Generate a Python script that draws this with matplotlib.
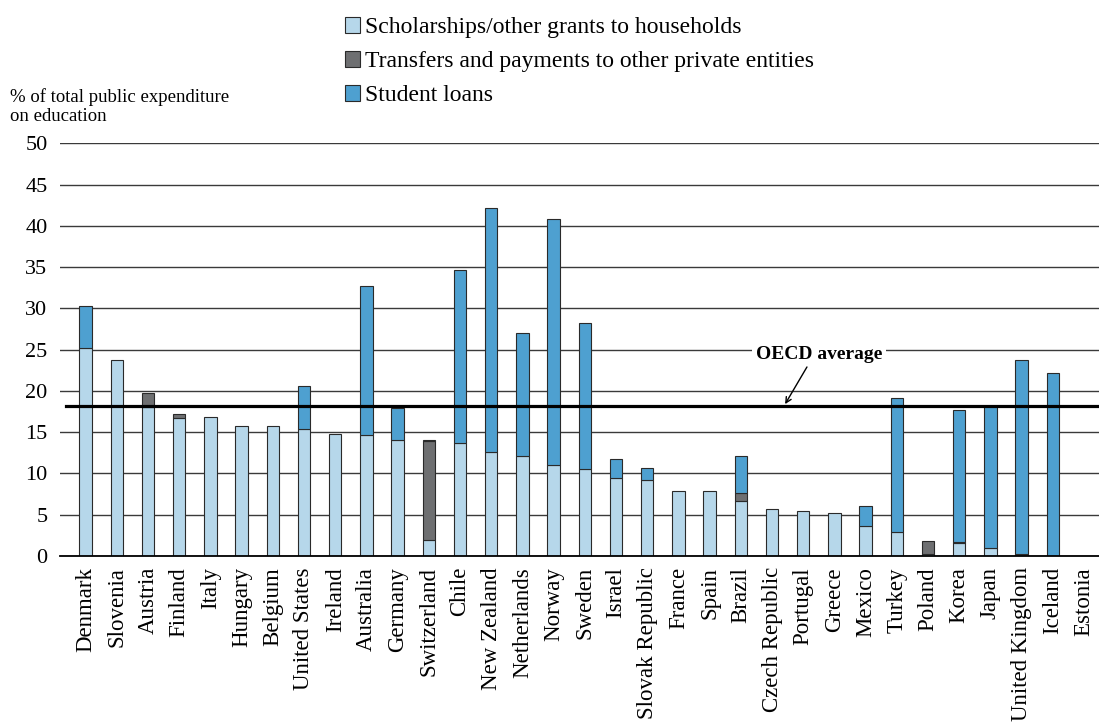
import matplotlib
matplotlib.use("Agg")
import matplotlib.pyplot as plt
from matplotlib.patches import Patch
import numpy as np

countries = ["Denmark", "Slovenia", "Austria", "Finland", "Italy", "Hungary", "Belgium",
             "United States", "Ireland", "Australia", "Germany", "Switzerland", "Chile",
             "New Zealand", "Netherlands", "Norway", "Sweden", "Israel", "Slovak Republic",
             "France", "Spain", "Brazil", "Czech Republic", "Portugal", "Greece", "Mexico",
             "Turkey", "Poland", "Korea", "Japan", "United Kingdom", "Iceland", "Estonia"]

scholarships = [25.2, 23.8, 18.1, 16.7, 16.8, 15.8, 15.7, 15.4, 14.8, 14.6, 14.1, 1.9, 13.7,
                12.6, 12.1, 11.0, 10.5, 9.5, 9.2, 7.9, 7.9, 6.7, 5.7, 5.4, 5.2, 3.6,
                2.9, 0.3, 1.6, 1.0, 0.0, 0.0, 0.0]
transfers = [0.0, 0.0, 1.6, 0.5, 0.0, 0.0, 0.0, 0.0, 0.0, 0.0, 0.0, 12.0, 0.0,
             0.0, 0.0, 0.0, 0.0, 0.0, 0.0, 0.0, 0.0, 0.9, 0.0, 0.0, 0.0, 0.0,
             0.0, 1.55, 0.15, 0.0, 0.2, 0.0, 0.0]
loans = [5.1, 0.0, 0.0, 0.0, 0.0, 0.0, 0.0, 5.2, 0.0, 18.1, 3.8, 0.1, 21.0,
         29.6, 14.9, 29.8, 17.7, 2.2, 1.5, 0.0, 0.0, 4.5, 0.0, 0.0, 0.0, 2.5,
         16.3, 0.0, 15.9, 17.2, 23.6, 22.2, 0.0]
oecd_average = 18.2

series_labels = ["Scholarships/other grants to households",
                 "Transfers and payments to other private entities",
                 "Student loans"]
colors = ["#b6d7ea", "#6e6f71", "#4ea0d0"]

plt.rcParams['font.family'] = ['Liberation Serif', 'DejaVu Serif']

W, H = 1099, 725
fig = plt.figure(figsize=(W/100, H/100), dpi=100)
ax_left, ax_bottom_px, ax_top_px = 60, 556, 143.3
ax = fig.add_axes([ax_left/W, 1-ax_bottom_px/H, 1-ax_left/W, (ax_bottom_px-ax_top_px)/H])

n = len(countries)
x = np.arange(n)
s = np.array(scholarships); t = np.array(transfers); l = np.array(loans)
w = 0.4
kw = dict(width=w, edgecolor="#2a2a2a", linewidth=0.8, zorder=3)
for i in range(n):
    if s[i] > 0:
        ax.bar(x[i], s[i], color=colors[0], **kw)
    if t[i] > 0:
        ax.bar(x[i], t[i], bottom=s[i], color=colors[1], **kw)
    if l[i] > 0:
        ax.bar(x[i], l[i], bottom=s[i]+t[i], color=colors[2], **kw)

ax.set_xlim(-0.82, 32.48)
ax.set_ylim(0, 50)
ax.set_yticks(np.arange(0, 51, 5))
ax.yaxis.grid(True, color="#3a3a3a", linewidth=1.0, zorder=0)
ax.set_axisbelow(True)
for sp in ["left", "right", "top"]:
    ax.spines[sp].set_visible(False)
ax.spines["bottom"].set_color("black")
ax.spines["bottom"].set_linewidth(1.3)
ax.spines["bottom"].set_zorder(4)
ax.tick_params(axis="both", length=0)
ax.tick_params(axis="y", pad=9, labelsize=16)
ax.tick_params(axis="x", pad=8, labelsize=16.5)
ax.set_xticks(x)
ax.set_xticklabels(countries, rotation=90)

ax.axhline(oecd_average, color="black", linewidth=2.3, zorder=4, xmin=0.006)
ax.text(23.5, 24.4, "OECD average", ha="center", va="center", fontsize=14,
        fontweight="bold", zorder=5,
        bbox=dict(boxstyle="square,pad=0.2", fc="white", ec="none"))
ax.annotate("", xy=(22.42, 18.4), xytext=(23.12, 22.9),
            arrowprops=dict(arrowstyle="->", color="black", lw=1.0,
                            shrinkA=0, shrinkB=0), zorder=5)

fig.text(10/W, 1-107/H, "% of total public expenditure\non education",
         fontsize=13.5, va="center", ha="left", linespacing=1.15)

handles = [Patch(facecolor=c, edgecolor="#2a2a2a", linewidth=0.8) for c in colors]
fig.legend(handles, series_labels, loc="upper left", bbox_to_anchor=(345/W, 1-17/H),
           frameon=False, fontsize=17, handlelength=0.65, handleheight=0.65,
           handletextpad=0.2, labelspacing=0.55, borderaxespad=0, borderpad=0)

fig.savefig("out.png", dpi=100)
